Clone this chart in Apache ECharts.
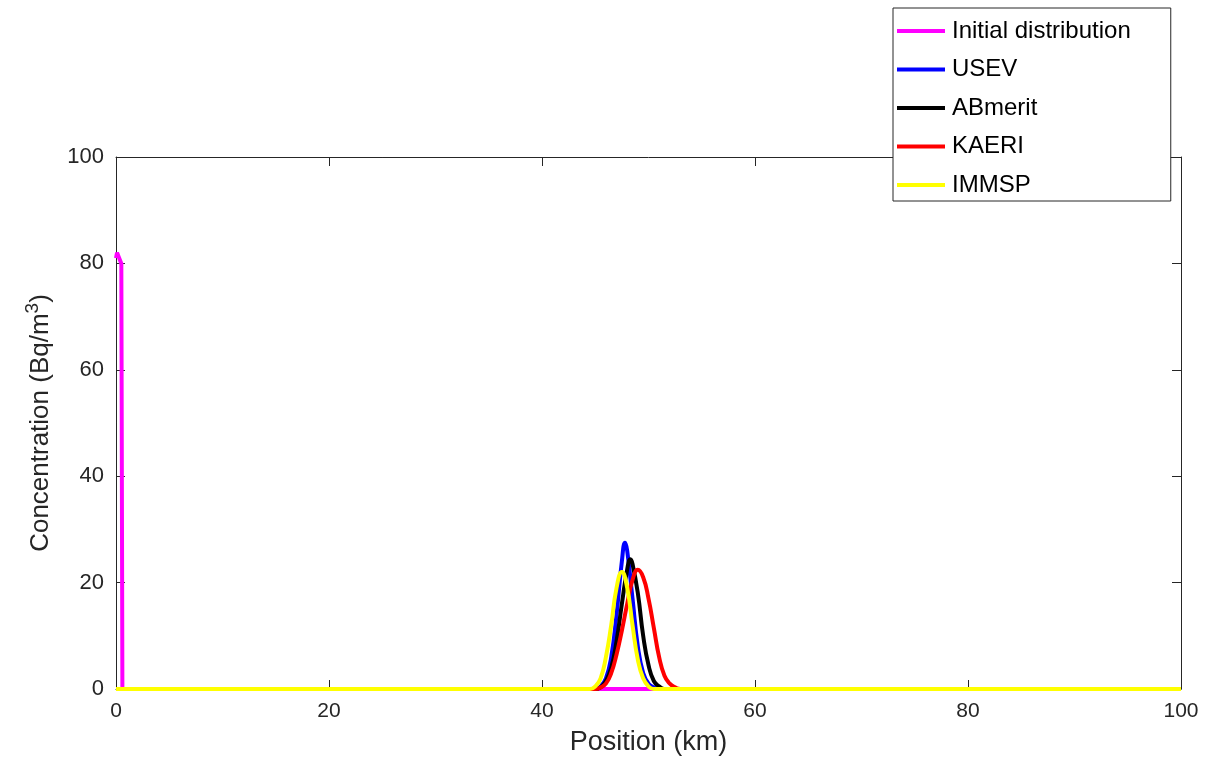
<!DOCTYPE html>
<html>
<head>
<meta charset="utf-8">
<script src="https://cdn.jsdelivr.net/npm/echarts@6/dist/echarts.min.js"></script>
<style>html,body{margin:0;padding:0;background:#fff}#c{width:1214px;height:773px}</style>
</head>
<body>
<div id="c"></div>
<script>
const seriesNames = ['Initial distribution', 'USEV', 'ABmerit', 'KAERI', 'IMMSP'];
const xTicks = [0, 20, 40, 60, 80, 100];
const yTicks = [0, 20, 40, 60, 80, 100];

const initialX = [0, 0.1, 0.5, 0.6, 100];
const initialY = [81, 82, 80, 0, 0];

const usevX = [0, 45, 45.5, 46, 46.5, 47, 47.5, 47.8, 48, 48.5, 49, 49.5, 50, 50.5, 51, 100];
const usevY = [0, 0, 0.5, 2, 6, 14, 24, 27.5, 26, 17, 8, 3, 1, 0.3, 0, 0];

const abmeritX = [0, 45, 45.5, 46, 46.5, 47, 47.5, 48, 48.3, 48.5, 49, 49.5, 50, 50.5, 51, 51.5, 100];
const abmeritY = [0, 0, 0.3, 1.5, 4, 9, 16, 22.5, 24.4, 23.5, 18, 10, 4.5, 1.5, 0.5, 0, 0];

const kaeriX = [0, 45, 45.5, 46, 46.5, 47, 47.5, 48, 48.5, 49, 49.5, 50, 50.5, 51, 51.5, 52, 52.5, 53, 100];
const kaeriY = [0, 0, 0.3, 1, 3, 6.5, 11, 16, 20.5, 22.4, 21, 17, 11.5, 6, 2.5, 1, 0.3, 0, 0];

const immspX = [0, 44.5, 45, 45.5, 46, 46.5, 47, 47.5, 48, 48.5, 49, 49.5, 50, 50.5, 100];
const immspY = [0, 0, 0.5, 2, 6, 12, 19, 22, 19, 12, 5.5, 2, 0.5, 0, 0];

const colors = ['#ff00ff', '#0000ff', '#000000', '#ff0000', '#ffff00'];
const xs = [initialX, usevX, abmeritX, kaeriX, immspX];
const ys = [initialY, usevY, abmeritY, kaeriY, immspY];

const chart = echarts.init(document.getElementById('c'));
const FONT = 'Liberation Sans, Arial, sans-serif';
const axisColor = '#262626';

const series = seriesNames.map((n, i) => ({
  name: n,
  type: 'line',
  xAxisIndex: 0,
  yAxisIndex: 0,
  data: xs[i].map((x, j) => [x, ys[i][j]]),
  showSymbol: false,
  symbol: 'none',
  smooth: i === 0 ? false : 0.5,
  lineStyle: { color: colors[i], width: 4 },
  itemStyle: { color: colors[i] },
  animation: false
}));

chart.setOption({
  animation: false,
  backgroundColor: '#ffffff',
  grid: { left: 116, right: 33, top: 157, bottom: 84, show: false },
  legend: {
    orient: 'vertical',
    left: 893,
    top: 8,
    data: seriesNames,
    icon: 'rect',
    itemWidth: 48,
    itemHeight: 4,
    itemGap: 10.5,
    padding: [9, 40, 2, 4],
    backgroundColor: '#ffffff',
    borderColor: '#262626',
    borderWidth: 1,
    borderRadius: 0,
    z: 20,
    textStyle: { fontFamily: FONT, fontSize: 24, color: '#000', padding: [0, 0, 0, 2], lineHeight: 28 }
  },
  xAxis: [{
    type: 'value',
    position: 'bottom',
    min: 0, max: 100, interval: 20,
    name: 'Position (km)',
    nameLocation: 'middle',
    nameGap: 40,
    nameTextStyle: { fontFamily: FONT, fontSize: 27, color: axisColor },
    axisLine: { show: true, onZero: false, lineStyle: { color: axisColor, width: 1 } },
    axisTick: { show: true, inside: true, length: 9, lineStyle: { color: axisColor } },
    axisLabel: { fontFamily: FONT, fontSize: 21, color: axisColor, margin: 12 },
    splitLine: { show: false }
  }, {
    type: 'value',
    position: 'top',
    min: 0, max: 100, interval: 20,
    axisLine: { show: true, onZero: false, lineStyle: { color: axisColor, width: 1 } },
    axisTick: { show: true, inside: true, length: 9, lineStyle: { color: axisColor } },
    axisLabel: { show: false },
    splitLine: { show: false }
  }],
  yAxis: [{
    type: 'value',
    position: 'left',
    min: 0, max: 100, interval: 20,
    name: 'Concentration (Bq/m{sup|3})',
    nameLocation: 'middle',
    nameGap: 58,
    nameRotate: 90,
    nameTextStyle: {
      fontFamily: FONT, fontSize: 26, color: axisColor,
      rich: { sup: { fontFamily: FONT, fontSize: 19, color: axisColor, verticalAlign: 'top', padding: [0, 0, 16, 0] } }
    },
    axisLine: { show: true, onZero: false, lineStyle: { color: axisColor, width: 1 } },
    axisTick: { show: true, inside: true, length: 9, lineStyle: { color: axisColor } },
    axisLabel: { fontFamily: FONT, fontSize: 22, color: axisColor, margin: 12 },
    splitLine: { show: false }
  }, {
    type: 'value',
    position: 'right',
    min: 0, max: 100, interval: 20,
    axisLine: { show: true, onZero: false, lineStyle: { color: axisColor, width: 1 } },
    axisTick: { show: true, inside: true, length: 9, lineStyle: { color: axisColor } },
    axisLabel: { show: false },
    splitLine: { show: false }
  }],
  series: series
});
</script>
</body>
</html>
